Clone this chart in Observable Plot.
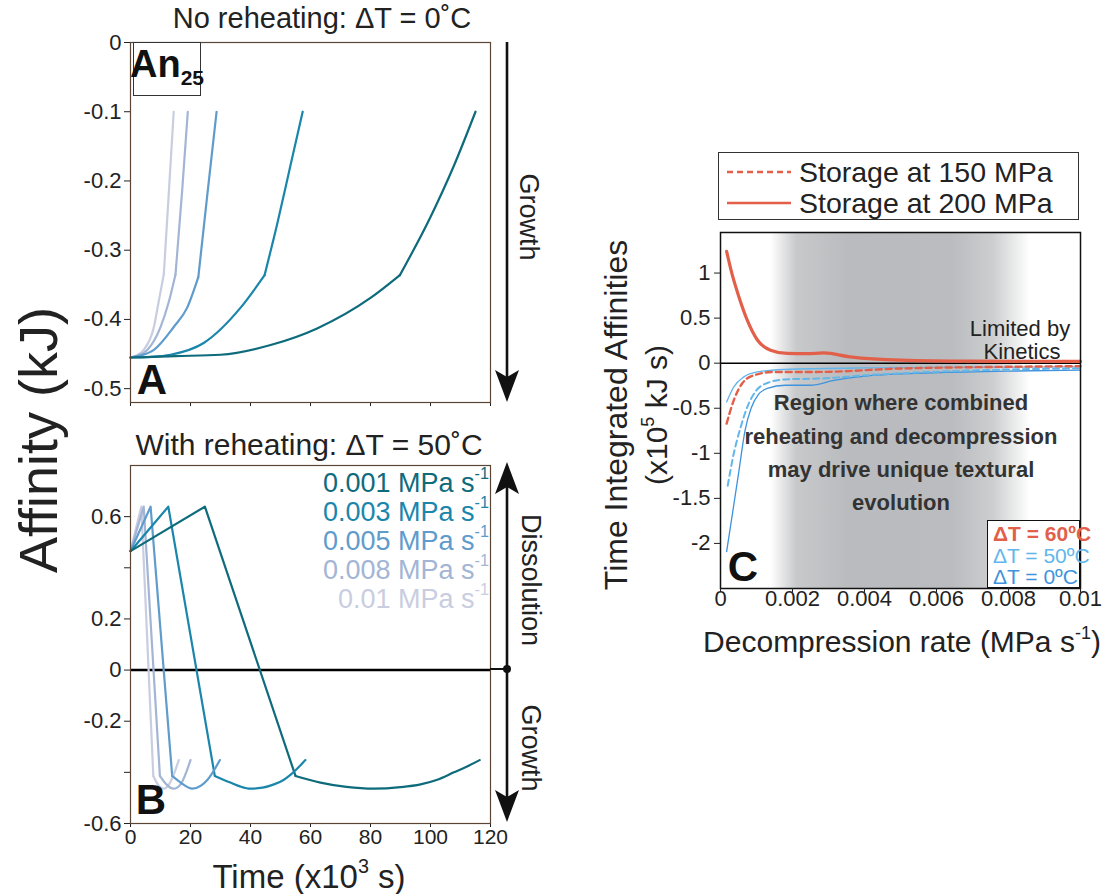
<!DOCTYPE html>
<html><head><meta charset="utf-8">
<script src="https://cdn.jsdelivr.net/npm/d3@7"></script>
<script src="https://cdn.jsdelivr.net/npm/@observablehq/plot@0.6"></script>
<style>
body{margin:0;background:#fff;}
#root{position:relative;width:1104px;height:894px;overflow:hidden;font-family:'Liberation Sans',Arial,sans-serif;color:#222;background:#fff;}
.abs{position:absolute;white-space:nowrap;line-height:1;}
.abs sup{font-size:0.6em;vertical-align:0.75em;line-height:0;}
.narrow{font-family:'Liberation Sans Narrow','Liberation Sans',Arial,sans-serif;}
</style></head>
<body><div id="root"></div>
<script>
// ---------- DATA ----------
const rates = ["0.001","0.003","0.005","0.008","0.01"];
const rateColors = ["#0e6b7c","#1a86ac","#5f9ccc","#a3b5d5","#c9cde0"];
const timeTicks = [0,20,40,60,80,100,120];
const affTicksA = [0,-0.1,-0.2,-0.3,-0.4,-0.5];
const affTicksB = [-0.6,-0.4,-0.2,0,0.2,0.4,0.6];
const affLabelsB = ["-0.6","","-0.2","0","0.2","","0.6"];

// Panel A: [time (x10^3 s), affinity (kJ)] — no reheating
const a001 = [[0,-0.455],[15,-0.453],[30,-0.451],[46.7,-0.437],[62.2,-0.413],[80,-0.369],[89.8,-0.336],[100,-0.252],[107.8,-0.178],[115,-0.1]];
const a003 = [[0,-0.455],[7,-0.454],[13.3,-0.451],[24.4,-0.434],[36.7,-0.383],[44.7,-0.336],[48.9,-0.262],[53.3,-0.178],[57.4,-0.1]];
const a005 = [[0,-0.455],[3.5,-0.452],[7.8,-0.444],[14.4,-0.411],[18.9,-0.383],[22.6,-0.339],[25.6,-0.22],[28.7,-0.1]];
const a008 = [[0,-0.455],[2.5,-0.452],[5.6,-0.444],[10,-0.411],[12.8,-0.374],[15,-0.335],[17.2,-0.215],[19.1,-0.1]];
const a010 = [[0,-0.455],[2,-0.452],[4.4,-0.444],[7.8,-0.411],[9.4,-0.374],[11.1,-0.335],[12.8,-0.215],[14.4,-0.1]];
const kinkA = [89.8,44.7,22.6,15,11.1];   // time where growth regime changes

// Panel B: with reheating dT = 50 C
const b001 = [[0,0.465],[24.8,0.639],[55,-0.414],[63.3,-0.44],[72,-0.457],[81.1,-0.464],[90,-0.458],[96.7,-0.447],[102,-0.43],[107.8,-0.40],[112,-0.378],[116.4,-0.352]];
const b003 = [[0,0.465],[12.6,0.639],[28.1,-0.414],[33.3,-0.44],[36.5,-0.455],[40,-0.464],[44,-0.46],[47.8,-0.447],[51,-0.43],[53.3,-0.41],[58.3,-0.352]];
const b005 = [[0,0.465],[6.7,0.639],[13.9,-0.414],[16.7,-0.44],[20.6,-0.464],[23.5,-0.452],[25.6,-0.43],[29.8,-0.352]];
const b008 = [[0,0.465],[4.4,0.639],[9.8,-0.414],[11.8,-0.445],[14.4,-0.464],[16.8,-0.445],[20,-0.352]];
const b010 = [[0,0.465],[3.6,0.639],[7.6,-0.414],[9,-0.445],[11.1,-0.464],[13.2,-0.44],[16.1,-0.352]];
const kinkB = [55,28.1,13.9,9.8,7.6];     // end of the straight dissolution leg

// Panel C: [decompression rate (MPa/s), time integrated affinity (x10^5 kJ s)]
const rateTicksC = [0,0.002,0.004,0.006,0.008,0.01];
const tiaTicksC = [-2,-1.5,-1,-0.5,0,0.5,1];
const shadedRange = [0.0014, 0.0086];
const red200 = [[0.00017,1.24],[0.00032,0.99],[0.00051,0.737],[0.00074,0.48],[0.00102,0.26],[0.00139,0.144],[0.00185,0.108],[0.0024,0.105],[0.00287,0.114],[0.0036,0.07],[0.005,0.033],[0.007,0.022],[0.01,0.02]];
const red150 = [[0.00017,-0.67],[0.00037,-0.41],[0.0006,-0.226],[0.00093,-0.133],[0.00148,-0.097],[0.00269,-0.097],[0.005,-0.059],[0.0075,-0.042],[0.01,-0.033]];
const blue50s = [[0.00017,-0.43],[0.00037,-0.263],[0.00065,-0.152],[0.00102,-0.097],[0.00176,-0.07],[0.0041,-0.052],[0.007,-0.045],[0.01,-0.04]];
const blue50d = [[0.0002,-1.36],[0.00037,-1.0],[0.00056,-0.71],[0.00075,-0.48],[0.001,-0.3],[0.0013,-0.22],[0.0018,-0.18],[0.0028,-0.17],[0.0041,-0.133],[0.0059,-0.097],[0.008,-0.07],[0.01,-0.059]];
const blue0 = [[0.00017,-2.09],[0.00037,-1.57],[0.00051,-1.2],[0.00068,-0.75],[0.00085,-0.5],[0.00105,-0.35],[0.0013,-0.28],[0.0018,-0.245],[0.0025,-0.245],[0.00315,-0.19],[0.0041,-0.141],[0.0059,-0.108],[0.008,-0.088],[0.01,-0.078]];
const redColor = "#e2604a", blue50Color = "#62b6ea", blue0Color = "#3f93dc";

// ---------- BUILD ----------
const root = document.getElementById("root");
const FONT = "'Liberation Sans', Arial, sans-serif";
const hy = d => String(d).replace("\u2212","-");
// split each series at its kink into segments (kink point shared)
function segTable(series, kinks){
  const rows=[];
  series.forEach((s,i)=>{
    const k=kinks[i];
    s.forEach(([t,v])=>{
      if(t<=k) rows.push({rate:rates[i], seg:rates[i]+"a", t, v});
      if(t>=k) rows.push({rate:rates[i], seg:rates[i]+"b", t, v});
    });
  });
  return rows;
}
const tableA = segTable([a001,a003,a005,a008,a010], kinkA);
const tableB = segTable([b001,b003,b005,b008,b010], kinkB);
const part = (tab, p) => tab.filter(r=>r.seg.endsWith(p)).sort((a,b)=>(rates.indexOf(b.rate)-rates.indexOf(a.rate))||(a.t-b.t));

function place(svg, left, top){
  svg.style.position="absolute"; svg.style.left=left+"px"; svg.style.top=top+"px";
  svg.style.background="transparent"; svg.style.overflow="visible"; svg.style.maxWidth="none";
  root.appendChild(svg);
}

const svgA = Plot.plot({
  width:560, height:420, marginLeft:130, marginRight:70, marginTop:42, marginBottom:18,
  x:{domain:[0,120]}, y:{domain:[-0.52,0]},
  color:{domain:rates, range:rateColors},
  style:{fontFamily:FONT, fontSize:"22px", color:"#222"},
  marks:[
    Plot.axisY({ticks:affTicksA, tickFormat:d=>hy(d), tickSize:6, tickPadding:3, label:null, fontSize:22}),
    Plot.axisX({ticks:timeTicks, tickFormat:()=>"", tickSize:4, label:null}),
    Plot.line(part(tableA,"a"),{x:"t", y:"v", z:"seg", stroke:"rate", strokeWidth:2.2, curve:"monotone-x"}),
    Plot.line(part(tableA,"b"),{x:"t", y:"v", z:"seg", stroke:"rate", strokeWidth:2.2, curve:"monotone-x"}),
    Plot.frame({stroke:"#5b4636", strokeWidth:1.2})
  ]
});
place(svgA,0,0);

const svgB = Plot.plot({
  width:560, height:474, marginLeft:130, marginRight:70, marginTop:45, marginBottom:71,
  x:{domain:[0,120]}, y:{domain:[-0.6,0.8]},
  color:{domain:rates, range:rateColors},
  style:{fontFamily:FONT, fontSize:"22px", color:"#222"},
  marks:[
    Plot.axisY({ticks:affTicksB, tickFormat:(d,i)=>affLabelsB[i], tickSize:6, tickPadding:3, label:null, fontSize:22}),
    Plot.axisX({ticks:timeTicks, tickSize:4, tickPadding:2, label:null, fontSize:21}),
    Plot.ruleY([0],{stroke:"#000", strokeWidth:2.5}),
    Plot.line(part(tableB,"a"),{x:"t", y:"v", z:"seg", stroke:"rate", strokeWidth:2.2}),
    Plot.line(part(tableB,"b"),{x:"t", y:"v", z:"seg", stroke:"rate", strokeWidth:2.2, curve:"monotone-x"}),
    Plot.frame({stroke:"#5b4636", strokeWidth:1.2})
  ]
});
place(svgB,0,420);

const lineC = (data, o) => Plot.line(data,{x:d=>d[0], y:d=>d[1], curve:"monotone-x", ...o});
const svgC = Plot.plot({
  width:524, height:520, marginLeft:140, marginRight:24, marginTop:92, marginBottom:72,
  x:{domain:[0,0.01]}, y:{domain:[-2.5,1.45]},
  style:{fontFamily:FONT, fontSize:"22px", color:"#222"},
  marks:[
    Plot.rect([shadedRange],{x1:d=>d[0], x2:d=>d[1], fill:"url(#cgrad)"}),
    Plot.ruleY([0],{stroke:"#000", strokeWidth:1.6}),
    lineC(blue0,{stroke:blue0Color, strokeWidth:1.3}),
    lineC(blue50d,{stroke:blue50Color, strokeWidth:2, strokeDasharray:"6,4"}),
    lineC(blue50s,{stroke:blue50Color, strokeWidth:1.3}),
    lineC(red150,{stroke:redColor, strokeWidth:2.4, strokeDasharray:"6,4"}),
    lineC(red200,{stroke:redColor, strokeWidth:3.2}),
    Plot.frame({stroke:"#111", strokeWidth:1.5}),
    Plot.axisY({ticks:tiaTicksC, tickFormat:d=>hy(d), tickSize:6, tickPadding:4, label:null, fontSize:22}),
    Plot.axisX({ticks:rateTicksC, tickFormat:d=>d===0?"0":String(+d.toFixed(3)), tickSize:4, tickPadding:-2, label:null, fontSize:22})
  ]
});
{
  const ns="http://www.w3.org/2000/svg";
  const defs=document.createElementNS(ns,"defs");
  const g=document.createElementNS(ns,"linearGradient");
  g.setAttribute("id","cgrad"); g.setAttribute("x1","0"); g.setAttribute("x2","1"); g.setAttribute("y1","0"); g.setAttribute("y2","0");
  [[0,"#ffffff"],[0.1,"#c8c9cb"],[0.3,"#b9bbbe"],[0.7,"#babcbf"],[0.86,"#cdced0"],[1,"#ffffff"]].forEach(([o,c])=>{
    const s=document.createElementNS(ns,"stop"); s.setAttribute("offset",o); s.setAttribute("stop-color",c); g.appendChild(s);
  });
  defs.appendChild(g); svgC.insertBefore(defs, svgC.firstChild);
}
place(svgC,580,140);

// ---------- ANNOTATIONS ----------
function txt(html, x, y, o={}){
  const d=document.createElement("div");
  d.className="abs"+(o.narrow?" narrow":"");
  d.innerHTML=html;
  d.style.left=x+"px"; d.style.top=y+"px";
  d.style.fontSize=(o.size||20)+"px";
  if(o.bold) d.style.fontWeight="bold";
  d.style.color=o.color||"#222";
  const ax=o.anchor==="end"?"-100%":o.anchor==="start"?"0":"-50%";
  d.style.transform=`translate(${ax},-50%)`;
  if(o.rot){ d.style.transform=`translate(-50%,-50%) rotate(${o.rot}deg)`; }
  root.appendChild(d); return d;
}
txt("No reheating: &Delta;T = 0˚C",322,18,{size:29});
txt("With reheating: &Delta;T = 50˚C",309,445,{size:30});
txt("Affinity (kJ)",38,440,{size:54,narrow:true,rot:-90});
txt("Time (x10<sup>3</sup> s)",309,876,{size:33});
txt("Growth",528,217,{size:27,narrow:true,rot:90});
txt("Dissolution",530,580,{size:27,narrow:true,rot:90});
txt("Growth",530,748,{size:27,narrow:true,rot:90});
txt("A",152,380,{size:42,narrow:true,bold:true,color:"#111"});
txt("B",151,800,{size:42,narrow:true,bold:true,color:"#111"});
txt("C",743,567,{size:42,narrow:true,bold:true,color:"#111"});
{
  const box=document.createElement("div");
  box.style.cssText="position:absolute;left:133px;top:42px;width:66px;height:52px;border:1.8px solid #333;background:#fff;";
  root.appendChild(box);
  txt("An<span style='font-size:21px;vertical-align:-8px'>25</span>",167,66,{size:38,narrow:true,bold:true,color:"#111"});
}
const legY=[483,512,541,570,599];
rates.forEach((r,i)=>txt(`${r} MPa s<sup>-1</sup>`,489,legY[i],{size:27,anchor:"end",color:rateColors[i]}));

// C legend
{
  const box=document.createElement("div");
  box.style.cssText="position:absolute;left:718px;top:152px;width:359px;height:66px;border:1.6px solid #333;background:#fff;";
  root.appendChild(box);
  const s=`<svg width="64" height="6" style="vertical-align:middle"><line x1="0" x2="64" y1="3" y2="3" stroke="${redColor}" stroke-width="2.6" DASH/></svg>`;
  txt(s.replace("DASH",'stroke-dasharray="6,4"'),759,172,{size:10});
  txt(s.replace("DASH",""),759,203,{size:10});
  txt("Storage at 150 MPa",799,172,{size:28.5,anchor:"start"});
  txt("Storage at 200 MPa",799,203,{size:28.5,anchor:"start"});
}
txt("Limited by",1020,329,{size:22});
txt("Kinetics",1022,352,{size:22});
["Region where combined","reheating and decompression","may drive unique textural","evolution"].forEach((s,i)=>
  txt(s,901,[403,437,470,503][i],{size:22,bold:true,color:"#333"}));
{
  const box=document.createElement("div");
  box.style.cssText="position:absolute;left:987px;top:520px;width:91px;height:66px;border:1.6px solid #111;background:#fff;";
  root.appendChild(box);
  txt("&Delta;T = 60ºC",993,533,{size:21,narrow:true,bold:true,anchor:"start",color:redColor});
  txt("&Delta;T = 50ºC",993,555,{size:21,narrow:true,anchor:"start",color:blue50Color});
  txt("&Delta;T = 0ºC",993,576,{size:21,narrow:true,anchor:"start",color:blue0Color});
}
txt("Time Integrated Affinities",616,415,{size:32,rot:-90});
txt("(x10<sup>5</sup> kJ s)",657,415,{size:30,rot:-90});
txt("Decompression rate (MPa s<sup>-1</sup>)",902,642,{size:30});

// arrows
{
  const ns="http://www.w3.org/2000/svg";
  const o=document.createElementNS(ns,"svg");
  o.setAttribute("width","1104"); o.setAttribute("height","894");
  o.style.cssText="position:absolute;left:0;top:0;pointer-events:none;";
  o.innerHTML=`
   <line x1="507" y1="42" x2="507" y2="380" stroke="#111" stroke-width="2.6"/>
   <path d="M507,402 L495,370 L507,377 L519,370 Z" fill="#111"/>
   <line x1="507" y1="485" x2="507" y2="800" stroke="#111" stroke-width="2.6"/>
   <path d="M507,462 L495,494 L507,487 L519,494 Z" fill="#111"/>
   <path d="M507,822 L495,790 L507,797 L519,790 Z" fill="#111"/>
   <line x1="490" y1="669" x2="507" y2="669" stroke="#111" stroke-width="2"/>
   <circle cx="507" cy="669" r="4" fill="#111"/>`;
  root.appendChild(o);
}
</script></body></html>
